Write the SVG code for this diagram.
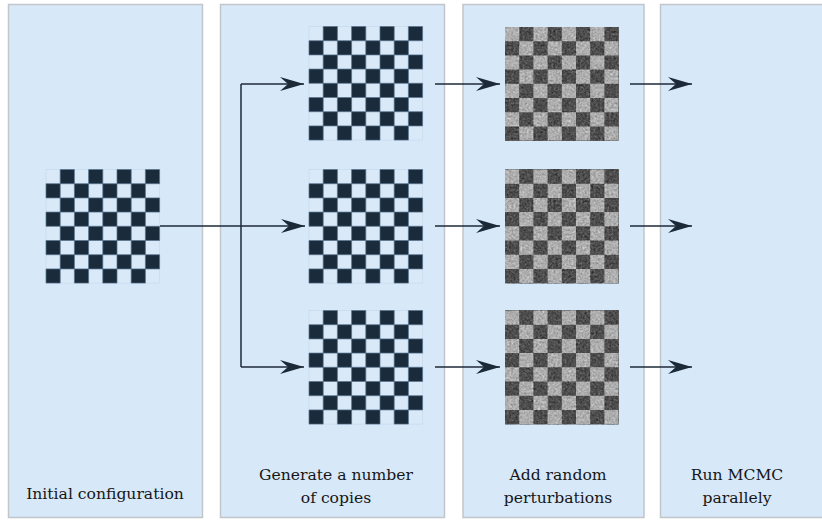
<svg xmlns="http://www.w3.org/2000/svg" xmlns:xlink="http://www.w3.org/1999/xlink" width="822" height="520" viewBox="0 0 822 520">
  <style>
    .panel { fill: #d7e8f9; stroke: #c2c6ca; stroke-width: 1.5; }
    .label { font-family: "DejaVu Serif", "Liberation Serif", serif; font-size: 15.6px; fill: #161616; text-anchor: middle; }
    .wire { fill: none; stroke: #1c2a38; stroke-width: 1.5; }
  </style>
  <defs>
    <marker id="head" viewBox="0 0 24 14" refX="24" refY="7" markerWidth="24" markerHeight="14" markerUnits="userSpaceOnUse" orient="auto">
      <path d="M0,0 L24,7 L0,14 L8,7 Z" fill="#1c2a38"/>
    </marker>

    <!-- the 32 odd squares of an 8x8 board, 14.2 px cells -->
    <path id="odd-cells" d="
      M14.2,0h14.2v14.2h-14.2z M42.6,0h14.2v14.2h-14.2z M71,0h14.2v14.2h-14.2z M99.4,0h14.2v14.2h-14.2z
      M0,14.2h14.2v14.2h-14.2z M28.4,14.2h14.2v14.2h-14.2z M56.8,14.2h14.2v14.2h-14.2z M85.2,14.2h14.2v14.2h-14.2z
      M14.2,28.4h14.2v14.2h-14.2z M42.6,28.4h14.2v14.2h-14.2z M71,28.4h14.2v14.2h-14.2z M99.4,28.4h14.2v14.2h-14.2z
      M0,42.6h14.2v14.2h-14.2z M28.4,42.6h14.2v14.2h-14.2z M56.8,42.6h14.2v14.2h-14.2z M85.2,42.6h14.2v14.2h-14.2z
      M14.2,56.8h14.2v14.2h-14.2z M42.6,56.8h14.2v14.2h-14.2z M71,56.8h14.2v14.2h-14.2z M99.4,56.8h14.2v14.2h-14.2z
      M0,71h14.2v14.2h-14.2z M28.4,71h14.2v14.2h-14.2z M56.8,71h14.2v14.2h-14.2z M85.2,71h14.2v14.2h-14.2z
      M14.2,85.2h14.2v14.2h-14.2z M42.6,85.2h14.2v14.2h-14.2z M71,85.2h14.2v14.2h-14.2z M99.4,85.2h14.2v14.2h-14.2z
      M0,99.4h14.2v14.2h-14.2z M28.4,99.4h14.2v14.2h-14.2z M56.8,99.4h14.2v14.2h-14.2z M85.2,99.4h14.2v14.2h-14.2z"/>

    <!-- clean board: pale squares with a faint grid, navy squares -->
    <g id="board">
      <rect x="0" y="0" width="113.6" height="113.6" fill="#d9e9f8" stroke="#c3d7ea" stroke-width="0.6"/>
      <path d="M14.2,0V113.6M28.4,0V113.6M42.6,0V113.6M56.8,0V113.6M71,0V113.6M85.2,0V113.6M99.4,0V113.6
               M0,14.2H113.6M0,28.4H113.6M0,42.6H113.6M0,56.8H113.6M0,71H113.6M0,85.2H113.6M0,99.4H113.6"
            fill="none" stroke="#c3d7ea" stroke-width="0.6"/>
      <use xlink:href="#odd-cells" href="#odd-cells" fill="#1a2b3b" stroke="#5a7590" stroke-width="0.7"/>
    </g>

    <!-- grey board that receives the grain -->
    <g id="grey-board">
      <rect x="0" y="0" width="113.6" height="113.6" fill="#acacac"/>
      <use xlink:href="#odd-cells" href="#odd-cells" fill="#4b4b4b"/>
    </g>

    <!-- soft grain added on top of the grey boards -->
    <filter id="grain1" x="0" y="0" width="1" height="1" color-interpolation-filters="sRGB">
      <feTurbulence type="fractalNoise" baseFrequency="0.45" numOctaves="3" seed="3" result="n"/>
      <feColorMatrix in="n" type="matrix" values="0.33 0.33 0.33 0 0  0.33 0.33 0.33 0 0  0.33 0.33 0.33 0 0  0 0 0 0 1" result="g"/>
      <feComposite in="SourceGraphic" in2="g" operator="arithmetic" k1="0" k2="1" k3="0.6" k4="-0.29"/>
    </filter>
    <filter id="grain2" x="0" y="0" width="1" height="1" color-interpolation-filters="sRGB">
      <feTurbulence type="fractalNoise" baseFrequency="0.45" numOctaves="3" seed="11" result="n"/>
      <feColorMatrix in="n" type="matrix" values="0.33 0.33 0.33 0 0  0.33 0.33 0.33 0 0  0.33 0.33 0.33 0 0  0 0 0 0 1" result="g"/>
      <feComposite in="SourceGraphic" in2="g" operator="arithmetic" k1="0" k2="1" k3="0.6" k4="-0.29"/>
    </filter>
    <filter id="grain3" x="0" y="0" width="1" height="1" color-interpolation-filters="sRGB">
      <feTurbulence type="fractalNoise" baseFrequency="0.45" numOctaves="3" seed="27" result="n"/>
      <feColorMatrix in="n" type="matrix" values="0.33 0.33 0.33 0 0  0.33 0.33 0.33 0 0  0.33 0.33 0.33 0 0  0 0 0 0 1" result="g"/>
      <feComposite in="SourceGraphic" in2="g" operator="arithmetic" k1="0" k2="1" k3="0.6" k4="-0.29"/>
    </filter>
  </defs>

  <rect width="822" height="520" fill="#ffffff"/>

  <!-- stage panels -->
  <g id="stage-initial">
    <rect class="panel" x="8.5" y="4.5" width="194" height="513"/>
    <text class="label" x="105" y="499">Initial configuration</text>
  </g>
  <g id="stage-copies">
    <rect class="panel" x="220.5" y="4.5" width="224" height="513"/>
    <text class="label" x="336" y="480">Generate a number</text>
    <text class="label" x="336" y="503">of copies</text>
  </g>
  <g id="stage-perturb">
    <rect class="panel" x="463" y="4.5" width="181" height="513"/>
    <text class="label" x="558" y="480">Add random</text>
    <text class="label" x="558" y="503">perturbations</text>
  </g>
  <g id="stage-mcmc">
    <rect class="panel" x="660.5" y="4.5" width="175" height="513"/>
    <text class="label" x="737" y="480">Run MCMC</text>
    <text class="label" x="737" y="503">parallely</text>
  </g>

  <!-- boards -->
  <g id="board-initial"><use xlink:href="#board" href="#board" x="46" y="169.5"/></g>
  <g id="copy-1"><use xlink:href="#board" href="#board" x="309" y="26.5"/></g>
  <g id="copy-2"><use xlink:href="#board" href="#board" x="309" y="169.5"/></g>
  <g id="copy-3"><use xlink:href="#board" href="#board" x="309" y="310.5"/></g>
  <g id="perturbed-1"><use xlink:href="#grey-board" href="#grey-board" x="505" y="27" filter="url(#grain1)"/></g>
  <g id="perturbed-2"><use xlink:href="#grey-board" href="#grey-board" x="505" y="169.5" filter="url(#grain2)"/></g>
  <g id="perturbed-3"><use xlink:href="#grey-board" href="#grey-board" x="505" y="310.5" filter="url(#grain3)"/></g>

  <!-- connectors -->
  <g id="connectors">
    <path class="wire" d="M160,226 H305" marker-end="url(#head)"/>
    <path class="wire" d="M241,84 V367"/>
    <path class="wire" d="M241,84 H304" marker-end="url(#head)"/>
    <path class="wire" d="M241,367 H304" marker-end="url(#head)"/>

    <path class="wire" d="M435,84 H500" marker-end="url(#head)"/>
    <path class="wire" d="M435,226 H500" marker-end="url(#head)"/>
    <path class="wire" d="M435,367 H500" marker-end="url(#head)"/>

    <path class="wire" d="M630,84 H692" marker-end="url(#head)"/>
    <path class="wire" d="M630,226 H692" marker-end="url(#head)"/>
    <path class="wire" d="M630,367 H692" marker-end="url(#head)"/>
  </g>
</svg>
